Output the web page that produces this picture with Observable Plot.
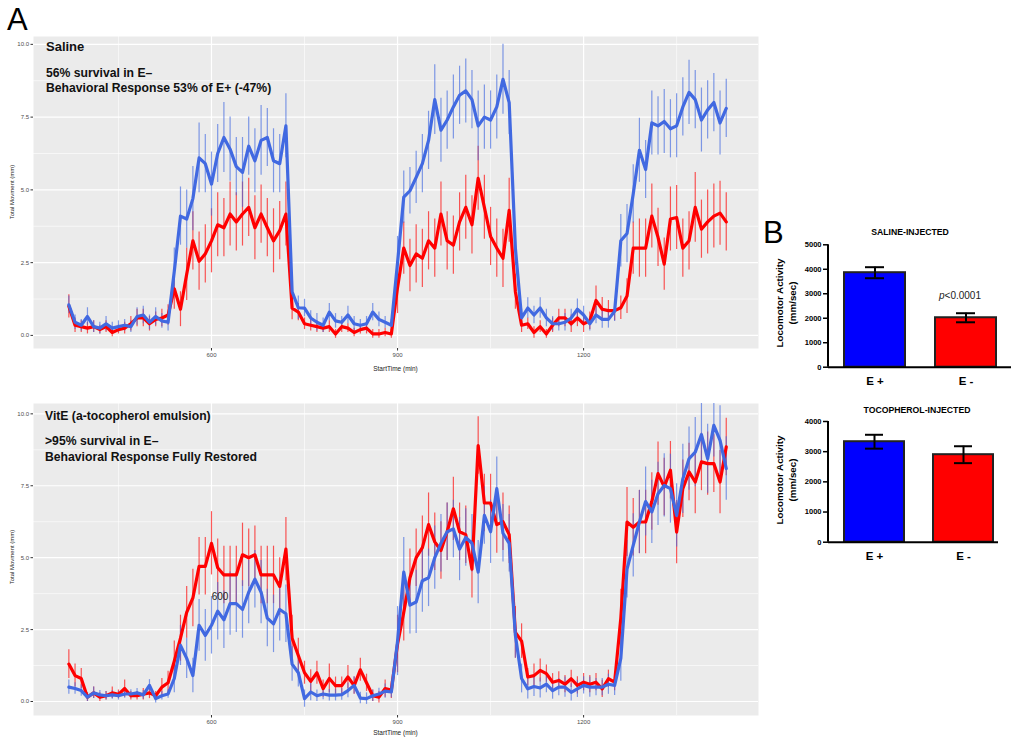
<!DOCTYPE html>
<html>
<head>
<meta charset="utf-8">
<script src="https://cdn.jsdelivr.net/npm/d3@7"></script>
<script src="https://cdn.jsdelivr.net/npm/@observablehq/plot@0.6"></script>
<style>
  body { margin: 0; background: #fff; font-family: "Liberation Sans", Arial, sans-serif; }
  #root { position: relative; width: 1017px; height: 738px; overflow: hidden; background: #fff; }
  .abs { position: absolute; white-space: nowrap; }
  #root svg { position: absolute; overflow: visible; }
</style>
</head>
<body>
<div id="root"></div>
<script>
// ---------- Time series (Panel A), sampled every 10 min ----------
const times = d3.range(370, 1431, 10); // StartTime (min), 107 points
const xMajor = [600, 900, 1200];
const xMinor = [450, 750, 1050, 1350];
const yMajor = [0, 2.5, 5, 7.5, 10];
const yMinor = [1.25, 3.75, 6.25, 8.75];

// Saline, E+ (blue)
const salinePlus = [
  1.05,0.45,0.35,0.65,0.30,0.25,0.40,0.25,0.30,0.35,
  0.30,0.65,0.70,0.45,0.65,0.50,0.45,2.2,4.1,4.0,
  4.7,6.1,5.9,5.2,6.25,6.8,6.4,5.8,5.6,6.5,
  6.0,6.7,6.8,6.0,5.9,7.2,1.5,0.95,0.94,0.6,
  0.45,0.35,0.8,0.5,0.45,0.7,0.4,0.35,0.4,0.8,
  0.55,0.45,0.35,2.5,4.75,4.97,5.43,5.9,6.7,8.1,
  7.05,7.4,7.85,8.25,8.4,8.1,7.2,7.5,7.4,7.85,
  8.8,8.0,3.0,0.6,0.94,0.7,0.94,0.6,0.4,0.4,
  0.45,0.6,0.9,0.7,0.4,0.7,0.55,0.55,0.83,3.25,
  3.5,4.86,6.36,5.7,7.3,7.2,7.35,7.1,7.2,7.85,
  8.35,8.1,7.4,7.75,8.0,7.3,7.8
];
const salinePlusErr = [
  0.3,0.25,0.2,0.3,0.2,0.2,0.25,0.2,0.2,0.2,0.2,0.3,0.3,0.25,0.3,0.25,0.3,
  0.8,1.0,1.0,1.1,1.2,1.0,1.1,1.0,1.2,1.1,1.0,1.2,1.0,1.1,1.2,1.0,1.1,1.0,1.1,
  0.5,0.4,0.3,0.25,0.3,0.25,0.3,0.25,0.2,0.3,0.25,0.2,0.25,0.3,0.25,0.2,0.2,
  0.9,0.9,0.8,0.9,1.0,1.0,1.2,1.1,1.0,1.1,1.0,1.1,1.0,1.2,1.1,1.0,1.1,1.2,1.1,
  0.6,0.3,0.35,0.3,0.35,0.3,0.25,0.25,0.3,0.3,0.35,0.3,0.25,0.3,0.3,0.3,0.35,
  0.9,1.0,1.0,1.1,1.0,1.1,1.0,1.1,1.0,1.1,1.0,1.1,1.0,1.1,1.0,1.0,1.1,1.0
];
// Saline, E- (red)
const salineMinus = [
  1.0,0.35,0.3,0.25,0.3,0.2,0.3,0.1,0.2,0.25,
  0.4,0.6,0.6,0.4,0.55,0.6,0.7,1.6,0.9,2.1,
  3.25,2.55,2.8,3.25,3.8,3.7,4.17,3.9,4.17,4.4,
  3.7,4.17,3.7,3.25,3.6,4.17,0.94,0.8,0.4,0.35,
  0.3,0.25,0.3,0.05,0.3,0.25,0.1,0.2,0.25,0.05,
  0.05,0.1,0.05,1.65,3.0,2.4,2.8,2.65,3.25,3.0,
  4.17,3.25,3.1,3.9,4.4,3.8,5.4,4.4,3.4,3.0,
  2.65,4.3,1.5,0.35,0.4,0.1,0.3,0.05,0.35,0.6,
  0.6,0.4,0.6,0.4,0.5,1.2,0.9,0.85,0.85,0.95,
  1.35,3.0,3.0,3.0,4.1,3.37,2.45,4.0,4.05,3.0,
  3.25,4.4,3.65,3.9,4.1,4.2,3.9
];
const salineMinusErr = [
  0.4,0.25,0.2,0.2,0.2,0.15,0.2,0.15,0.15,0.2,0.25,0.3,0.3,0.25,0.25,0.3,0.35,
  0.7,0.6,0.9,1.0,1.0,1.0,1.1,1.1,1.0,1.1,1.0,1.1,1.0,1.1,1.0,1.0,1.1,1.0,1.1,
  0.4,0.3,0.2,0.2,0.2,0.15,0.2,0.15,0.2,0.15,0.15,0.15,0.2,0.15,0.15,0.15,0.15,
  0.9,0.9,0.9,1.0,1.0,1.0,1.0,1.1,1.0,1.0,1.0,1.1,1.0,1.1,1.1,1.0,1.0,1.0,1.1,
  0.6,0.25,0.2,0.2,0.2,0.15,0.25,0.3,0.3,0.3,0.3,0.3,0.3,0.5,0.4,0.35,0.35,
  0.4,0.6,0.9,1.0,1.0,1.1,1.0,0.9,1.1,1.1,1.0,1.0,1.2,1.0,1.1,1.1,1.1,1.0
];

// VitE, E+ (blue)
const vitEPlus = [
  0.5,0.45,0.38,0.15,0.3,0.23,0.2,0.23,0.2,0.26,
  0.26,0.3,0.23,0.56,0.1,0.2,0.26,0.8,1.95,1.5,
  0.9,2.65,2.3,2.65,3.14,2.84,3.4,3.4,3.2,3.8,
  4.25,3.8,2.9,2.7,3.2,3.05,1.3,1.0,0.1,0.33,
  0.2,0.26,0.22,0.22,0.24,0.38,0.56,0.12,0.1,0.2,
  0.26,0.36,0.33,2.1,4.5,3.35,3.46,4.2,4.3,5.0,
  5.5,5.9,6.0,5.3,5.7,5.5,4.5,6.47,5.9,7.4,
  5.85,5.5,2.3,0.8,0.44,0.52,0.47,0.6,0.38,0.5,
  0.5,0.32,0.44,0.56,0.5,0.5,0.5,0.6,0.56,1.5,
  4.6,5.43,6.24,6.95,6.59,7.22,7.51,7.4,6.47,7.74,
  8.44,8.67,9.28,8.44,9.6,9.08,8.1
];
const vitEPlusErr = [
  0.25,0.2,0.2,0.15,0.2,0.15,0.15,0.15,0.15,0.15,0.15,0.15,0.15,0.2,0.15,0.15,0.15,
  0.5,0.7,0.7,0.6,0.9,0.9,1.0,1.0,1.0,1.1,1.0,1.0,1.1,1.0,1.1,1.0,1.0,1.1,1.0,
  0.6,0.5,0.3,0.3,0.2,0.2,0.2,0.2,0.2,0.25,0.3,0.2,0.2,0.2,0.2,0.25,0.2,
  1.2,1.2,1.0,1.1,1.1,1.0,1.1,1.0,1.0,1.0,1.1,1.0,1.0,1.1,1.0,1.1,1.1,1.0,1.0,
  0.8,0.5,0.35,0.35,0.35,0.3,0.3,0.3,0.35,0.3,0.3,0.3,0.35,0.3,0.3,0.35,0.35,
  0.8,1.0,1.1,1.1,1.2,1.1,1.1,1.1,1.2,1.1,1.2,1.1,1.2,1.1,1.2,1.1,1.2,1.1
];
// VitE, E- (red)
const vitEMinus = [
  1.3,0.9,0.8,0.15,0.3,0.15,0.2,0.3,0.25,0.45,
  0.2,0.2,0.25,0.3,0.2,0.5,0.65,1.4,2.2,3.1,
  3.6,4.7,4.7,5.5,4.65,4.4,4.4,4.4,5.1,5.0,
  5.1,4.4,4.4,4.4,4.0,5.3,2.2,1.6,1.0,0.7,
  1.0,0.45,0.8,0.55,0.55,0.85,0.55,1.1,0.65,0.2,
  0.15,0.45,0.4,2.0,3.1,4.3,5.0,5.35,6.15,5.55,
  5.25,5.9,6.7,5.9,5.8,4.6,8.9,6.9,6.9,6.15,
  6.25,5.8,2.4,2.1,0.85,0.9,1.08,0.97,0.67,0.73,
  0.6,0.79,0.56,0.67,0.6,0.67,0.44,0.79,0.67,2.9,
  6.24,6.06,6.24,6.24,6.95,7.92,7.46,8.04,5.89,7.4,
  7.98,7.63,8.33,8.27,8.27,7.63,8.85
];
const vitEMinusErr = [
  0.5,0.4,0.35,0.15,0.2,0.15,0.15,0.2,0.15,0.3,0.15,0.15,0.2,0.2,0.15,0.3,0.4,
  0.7,0.8,0.9,1.0,1.0,1.0,1.1,1.0,1.0,1.0,1.0,1.1,1.0,1.0,1.0,1.0,1.0,1.0,1.1,
  0.8,0.6,0.4,0.4,0.4,0.3,0.5,0.3,0.3,0.4,0.3,0.4,0.3,0.2,0.2,0.3,0.3,
  1.0,1.0,1.0,1.0,1.1,1.1,1.0,1.0,1.0,1.1,1.0,1.0,1.0,1.0,1.0,1.0,1.0,1.0,1.0,
  0.9,0.6,0.3,0.4,0.4,0.3,0.3,0.3,0.3,0.3,0.3,0.3,0.3,0.3,0.3,0.3,0.3,
  1.0,1.2,1.0,1.1,1.1,1.0,1.1,1.0,1.0,1.1,1.0,1.0,1.1,1.0,1.1,1.0,1.1,1.0
];
// stray label printed inside the lower panel
const strayLabels = [{t: 613.7, v: 3.65, label: "600"}];

// ---------- Bar charts (Panel B) ----------
const barGroups = ["E +", "E -"];
const barColors = ["#0000FF", "#FF0000"];
const salineMeans = [3860, 2020];
const salineSEM = [225, 185];
const tocoMeans = [3330, 2900];
const tocoSEM = [230, 280];
const salineTicks = [0, 1000, 2000, 3000, 4000, 5000];
const tocoTicks = [0, 1000, 2000, 3000, 4000];

// ---------- Text ----------
const panelATexts = {
  top: ["Saline", "56% survival in E\u2013", "Behavioral Response 53% of E+ (-47%)"],
  bottom: ["VitE (a-tocopherol emulsion)", ">95% survival in E\u2013", "Behavioral Response Fully Restored"]
};

const FONT = '"Liberation Sans", Arial, Helvetica, sans-serif';
const root = document.getElementById("root");

function put(text, x, y, o = {}) {
  const d = document.createElement("div");
  d.className = "abs";
  if (o.html) d.innerHTML = text; else d.textContent = text;
  const ax = o.anchor === "middle" ? "-50%" : o.anchor === "end" ? "-100%" : "0";
  d.style.left = x + "px";
  d.style.top = y + "px";
  d.style.fontSize = (o.size || 12) + "px";
  d.style.fontWeight = o.weight || "normal";
  d.style.color = o.color || "#000";
  d.style.lineHeight = o.lh || "1";
  d.style.textAlign = o.align || "left";
  if (o.ls) d.style.letterSpacing = o.ls;
  d.style.transform = `translate(${ax}, -50%)` + (o.rotate ? ` rotate(${o.rotate}deg)` : "");
  root.appendChild(d);
  return d;
}

function place(svg, left, top) {
  svg.style.left = left + "px";
  svg.style.top = top + "px";
  root.appendChild(svg);
}

function seriesPlot({plus, plusErr, minus, minusErr, xDomain, yDomain, height, marginBottom, extra = []}) {
  const rows = (vals, errs) => times.map((t, i) => ({t, v: vals[i], lo: vals[i] - errs[i], hi: vals[i] + errs[i]}));
  const P = rows(plus, plusErr), M = rows(minus, minusErr);
  return Plot.plot({
    width: 760, height,
    marginTop: 8, marginLeft: 33, marginRight: 2, marginBottom,
    x: {domain: xDomain},
    y: {domain: yDomain},
    style: {fontFamily: FONT, color: "#4D4D4D", background: "transparent"},
    marks: [
      Plot.frame({fill: "#EBEBEB", stroke: "none"}),
      Plot.gridX(xMinor, {stroke: "#fff", strokeOpacity: 1, strokeWidth: 0.6}),
      Plot.gridY(yMinor, {stroke: "#fff", strokeOpacity: 1, strokeWidth: 0.6}),
      Plot.gridX(xMajor, {stroke: "#fff", strokeOpacity: 1, strokeWidth: 1.2}),
      Plot.gridY(yMajor, {stroke: "#fff", strokeOpacity: 1, strokeWidth: 1.2}),
      Plot.ruleX(M, {x: "t", y1: "lo", y2: "hi", stroke: "#FF0000", strokeOpacity: 0.65, strokeWidth: 1.2, clip: true}),
      Plot.ruleX(P, {x: "t", y1: "lo", y2: "hi", stroke: "#4169E1", strokeOpacity: 0.65, strokeWidth: 1.2, clip: true}),
      Plot.line(M, {x: "t", y: "v", stroke: "#FF0000", strokeWidth: 3.2}),
      Plot.line(P, {x: "t", y: "v", stroke: "#4169E1", strokeWidth: 3.2}),
      Plot.axisX(xMajor, {tickSize: 2.5, tickPadding: 2, fontSize: 6, label: null, stroke: "#333", tickFormat: d => String(d)}),
      Plot.axisY(yMajor, {tickSize: 2.5, tickPadding: 2, fontSize: 6, label: null, stroke: "#333", tickFormat: d3.format(".1f")}),
      ...extra
    ]
  });
}

function barPlot({means, sems, ticks, height, marginTop, marginBottom, marginRight, paddingOuter, align}) {
  const data = barGroups.map((g, i) => ({g, v: means[i], lo: means[i] - sems[i], hi: means[i] + sems[i]}));
  const yMax = ticks[ticks.length - 1];
  const chart = Plot.plot({
    width: 257, height,
    marginLeft: 68, marginRight, marginTop, marginBottom,
    x: {domain: barGroups, paddingInner: 0.33, paddingOuter, align},
    y: {domain: [0, yMax]},
    color: {domain: barGroups, range: barColors},
    style: {fontFamily: FONT, fontWeight: "bold", color: "#000", background: "transparent"},
    marks: [
      Plot.barY(data, {x: "g", y: "v", fill: "g", stroke: "#222", strokeWidth: 2}),
      Plot.ruleX(data, {x: "g", y1: "lo", y2: "hi", stroke: "#000", strokeWidth: 2}),
      Plot.tickY(data, {x: "g", y: "hi", stroke: "#000", strokeWidth: 2, insetLeft: 21, insetRight: 21}),
      Plot.tickY(data, {x: "g", y: "lo", stroke: "#000", strokeWidth: 2, insetLeft: 21, insetRight: 21}),
      Plot.ruleY([0], {stroke: "#000", strokeWidth: 2}),
      Plot.axisY(ticks, {tickSize: 5, tickPadding: 2, fontSize: 7.5, strokeWidth: 1.5, label: null, tickFormat: d => String(d)}),
      Plot.axisX({tickSize: 0, tickPadding: 10, fontSize: 11.5, label: null})
    ]
  });
  const y = chart.scale("y");
  d3.select(chart).append("line")
    .attr("x1", 68).attr("x2", 68)
    .attr("y1", y.apply(yMax)).attr("y2", y.apply(0))
    .attr("stroke", "#000").attr("stroke-width", 2);
  return chart;
}

// Panel A — top (Saline)
place(seriesPlot({
  plus: salinePlus, plusErr: salinePlusErr, minus: salineMinus, minusErr: salineMinusErr,
  xDomain: [313, 1482], yDomain: [-0.45, 10.27], height: 350, marginBottom: 30
}), 0, 28);

// Panel A — bottom (VitE)
place(seriesPlot({
  plus: vitEPlus, plusErr: vitEPlusErr, minus: vitEMinus, minusErr: vitEMinusErr,
  xDomain: [313, 1482], yDomain: [-0.487, 10.36], height: 343, marginBottom: 23,
  extra: [Plot.text(strayLabels, {x: "t", y: "v", text: "label", fontSize: 10, fill: "#222"})]
}), 0, 395);

// Panel B — bars
place(barPlot({means: salineMeans, sems: salineSEM, ticks: salineTicks,
  height: 168, marginTop: 22.3, marginBottom: 23.3, marginRight: 6, paddingOuter: 0.17, align: 0.5}), 760, 222);
place(barPlot({means: tocoMeans, sems: tocoSEM, ticks: tocoTicks,
  height: 165, marginTop: 21, marginBottom: 23.3, marginRight: 19, paddingOuter: 0.111, align: 0.75}), 760, 400);

// Panel letters
put("A", 7, 19, {size: 31});
put("B", 763, 232, {size: 31});

// Panel A annotations
put(panelATexts.top[0], 46, 45.5, {size: 13, weight: "bold", color: "#111"});
put(panelATexts.top[1], 46, 72.5, {size: 12.2, weight: "bold", color: "#111"});
put(panelATexts.top[2], 46, 87.5, {size: 12.2, weight: "bold", color: "#111"});
put(panelATexts.bottom[0], 45, 415.5, {size: 12.2, weight: "bold", color: "#111"});
put(panelATexts.bottom[1], 45, 441, {size: 12.2, weight: "bold", color: "#111"});
put(panelATexts.bottom[2], 45, 456.5, {size: 12.2, weight: "bold", color: "#111"});

// Panel A axis titles
put("Total Movment (mm)", 12, 192, {size: 6, color: "#222", anchor: "middle", rotate: -90});
put("Total Movment (mm)", 12, 557, {size: 6, color: "#222", anchor: "middle", rotate: -90});
put("StartTime (min)", 395.5, 369, {size: 6.5, color: "#222", anchor: "middle"});
put("StartTime (min)", 395.5, 733, {size: 6.5, color: "#222", anchor: "middle"});

// Panel B titles
put("SALINE-INJECTED", 910, 231.5, {size: 8.7, weight: "bold", anchor: "middle"});
put("TOCOPHEROL-INJECTED", 917, 410, {size: 8.7, weight: "bold", anchor: "middle"});
put("Locomotor Activity<br>(mm/sec)", 786, 303, {html: true, size: 9.8, weight: "bold", anchor: "middle", rotate: -90, lh: "13px", align: "center"});
put("Locomotor Activity<br>(mm/sec)", 786, 480, {html: true, size: 9.8, weight: "bold", anchor: "middle", rotate: -90, lh: "13px", align: "center"});
put("<i>p</i>&lt;0.0001", 960, 296, {html: true, size: 10, color: "#222", anchor: "middle"});
</script>
</body>
</html>
